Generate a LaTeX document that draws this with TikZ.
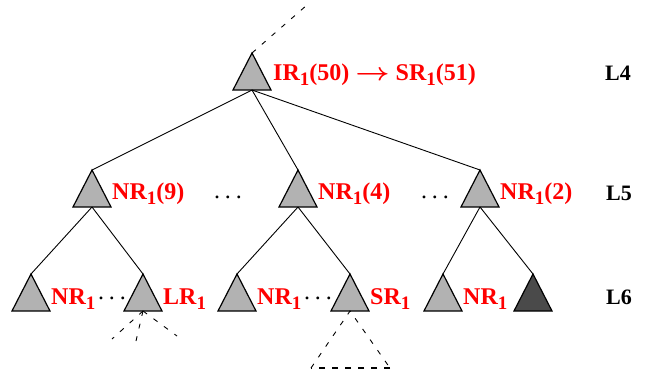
\documentclass[tikz,border=0pt]{standalone}
\usepackage{amsmath}
\usepackage{graphicx}
\usepackage{fontspec}
\setmainfont{Liberation Serif}
\usepackage{tikz}
\usetikzlibrary{positioning,calc}
\definecolor{trigray}{RGB}{178,178,178}
\definecolor{tridark}{RGB}{74,74,74}
\definecolor{labelred}{RGB}{255,0,0}
\newcommand{\lsub}[1]{\raisebox{-5pt}{\fontsize{19}{20}\selectfont #1}}
\newcommand{\gapdots}{.\hspace{5pt}.\hspace{5pt}.}
\newcommand{\toarrow}{\scalebox{1.2}[1]{\(\boldsymbol{\rightarrow}\)}}

\tikzset{
  tri/.pic={
    \draw[line width=1.2pt, pic actions] (-19,37) -- (0,0) -- (19,37) -- cycle;
    \coordinate (-top) at (0,0);
    \coordinate (-bot) at (0,37);
    \coordinate (-br) at (19,37);
  },
  redlabel/.style={anchor=base west, inner sep=0pt, text=labelred, font=\fontsize{24}{28}\selectfont\bfseries},
  levlabel/.style={anchor=base west, inner sep=0pt, font=\fontsize{22}{26}\selectfont\bfseries},
  dotsnode/.style={anchor=base, inner sep=0pt, font=\fontsize{24}{28}\selectfont},
  edge/.style={line width=0.9pt},
  dashedge/.style={line width=0.9pt, dash pattern=on 5pt off 8pt},
}

\begin{document}
\begin{tikzpicture}[x=1pt, y=-1pt]
  \useasboundingbox (0,0) rectangle (647,375);

  % triangles
  \pic[fill=trigray] (t4) at (252,53) {tri};
  \pic[fill=trigray] (t5a) at (92,170) {tri};
  \pic[fill=trigray] (t5b) at (298,170) {tri};
  \pic[fill=trigray] (t5c) at (480,170) {tri};
  \pic[fill=trigray] (t6a) at (31,274) {tri};
  \pic[fill=trigray] (t6b) at (143,274) {tri};
  \pic[fill=trigray] (t6c) at (237,274) {tri};
  \pic[fill=trigray] (t6d) at (350,274) {tri};
  \pic[fill=trigray] (t6e) at (443,274) {tri};
  \pic[fill=tridark] (t6f) at (533,274) {tri};

  % tree edges
  \foreach \c in {t5a,t5b,t5c}
    \draw[edge] (t4-bot) -- (\c-top);
  \draw[edge] (t5a-bot) -- (t6a-top);
  \draw[edge] (t5a-bot) -- (t6b-top);
  \draw[edge] (t5b-bot) -- (t6c-top);
  \draw[edge] (t5b-bot) -- (t6d-top);
  \draw[edge] (t5c-bot) -- (t6e-top);
  \draw[edge] (t5c-bot) -- (t6f-top);

  % dashed continuations
  \coordinate (up) at (307,5);
  \draw[dashedge] (t4-top) -- (up);
  \coordinate (lra) at (112,339);
  \coordinate (lrb) at (136,341);
  \coordinate (lrc) at (177,336);
  \foreach \c in {lra,lrb,lrc}
    \draw[dashedge] (t6b-bot) -- (\c);
  \coordinate (srl) at (311,368);
  \coordinate (srr) at (390,368);
  \draw[dashedge] (srl) -- (t6d-bot) -- (srr);
  \draw[line width=1.5pt, dash pattern=on 6pt off 7pt] (srr) -- (srl);

  % labels
  \node[redlabel] (lab4) at ([shift={(2pt,10pt)}]t4-br) {IR\lsub{1}(50) \toarrow{} SR\lsub{1}(51)};
  \node[redlabel] (lab5a) at ([shift={(1pt,8pt)}]t5a-br) {NR\lsub{1}(9)};
  \node[redlabel] (lab5b) at ([shift={(1pt,8pt)}]t5b-br) {NR\lsub{1}(4)};
  \node[redlabel] (lab5c) at ([shift={(1pt,8pt)}]t5c-br) {NR\lsub{1}(2)};
  \node[redlabel] (lab6a) at ([shift={(1pt,7pt)}]t6a-br) {NR\lsub{1}};
  \node[redlabel] (lab6b) at ([shift={(1pt,7pt)}]t6b-br) {LR\lsub{1}};
  \node[redlabel] (lab6c) at ([shift={(1pt,7pt)}]t6c-br) {NR\lsub{1}};
  \node[redlabel] (lab6d) at ([shift={(1pt,7pt)}]t6d-br) {SR\lsub{1}};
  \node[redlabel] (lab6e) at ([shift={(1pt,7pt)}]t6e-br) {NR\lsub{1}};

  \node[dotsnode] (dots5a) at (228,198) {\gapdots};
  \node[dotsnode] (dots5b) at (435,198) {\gapdots};
  \node[dotsnode] (dots6a) at (112,299) {\gapdots};
  \node[dotsnode] (dots6b) at (318,299) {\gapdots};

  % level names
  \node[levlabel] (lev4) at (605,80) {L4};
  \node[levlabel] (lev5) at (606,200) {L5};
  \node[levlabel] (lev6) at (606,304) {L6};
\end{tikzpicture}
\end{document}
